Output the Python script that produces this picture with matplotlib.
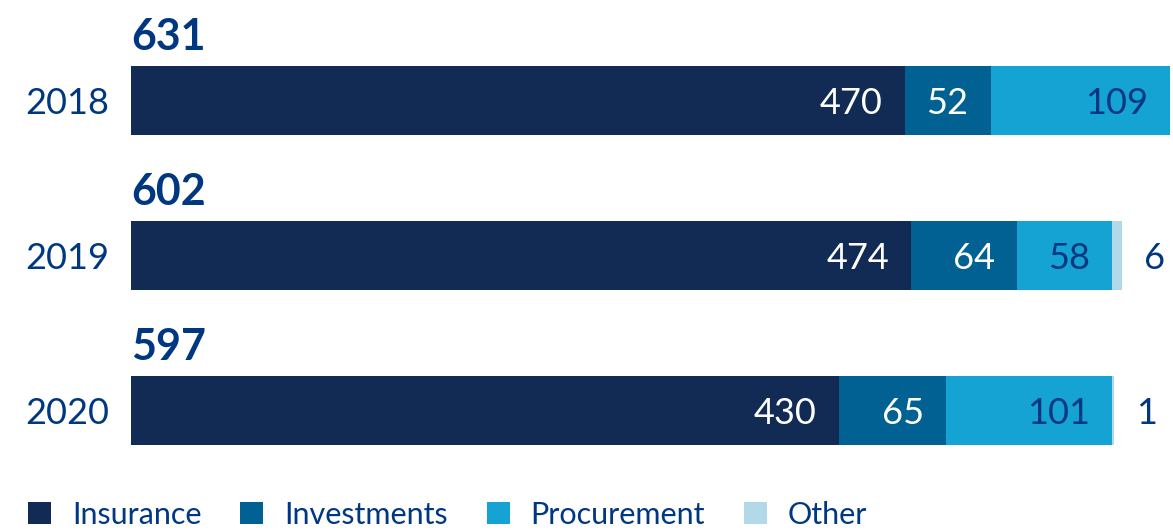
import numpy as np
import matplotlib.pyplot as plt
from matplotlib.patches import Patch

plt.rcParams['font.family'] = ['Lato', 'DejaVu Sans']

years = ['2018', '2019', '2020']
totals = [631, 602, 597]
segments = ['Insurance', 'Investments', 'Procurement', 'Other']
insurance = [470, 474, 430]
investments = [52, 64, 65]
procurement = [109, 58, 101]
other = [0, 6, 1]

colors = ['#122b54', '#006192', '#15a3d4', '#b1d9e7']
label_colors = ['white', 'white', '#003781', '#003781']
navy = '#003781'

fig = plt.figure(figsize=(11.73, 5.31), dpi=100)
# axes spans full height, x from bar start to right edge
ax = fig.add_axes([131/1173, 0, 1039/1173, 1])

y = np.arange(len(years))
h = 0.45
data = [insurance, investments, procurement, other]
left = np.zeros(len(years))
for k, vals in enumerate(data):
    vals = np.array(vals)
    ax.barh(y, vals, left=left, height=h, color=colors[k], linewidth=0)
    for i in range(len(years)):
        if vals[i] == 0:
            continue
        if k < 3:
            ax.annotate(str(vals[i]), (left[i] + vals[i], y[i]), xytext=(-16, 0),
                        textcoords='offset points', ha='right', va='center_baseline',
                        fontsize=26, color=label_colors[k])
        else:
            ax.annotate(str(vals[i]), (left[i] + vals[i], y[i]), xytext=(16, 0),
                        textcoords='offset points', ha='left', va='center_baseline',
                        fontsize=26, color=navy)
    left = left + vals

for i in range(len(years)):
    ax.annotate(str(totals[i]), (0, y[i] - h/2), xytext=(0, 11),
                textcoords='offset points', ha='left', va='baseline',
                fontsize=31, fontweight='bold', color=navy)

ax.set_xlim(0, 631)
ax.set_ylim(2.777, -0.648)
ax.set_yticks(y)
ax.set_yticklabels(years, fontsize=26, color=navy)
ax.tick_params(axis='y', length=0, pad=16)
ax.set_xticks([])
for s in ax.spines.values():
    s.set_visible(False)

handles = [Patch(facecolor=c, edgecolor='none') for c in colors]
fig.legend(handles, segments, loc='lower left', bbox_to_anchor=(28/1173, 0.004),
           ncol=4, frameon=False, fontsize=22, labelcolor=navy,
           borderpad=0, borderaxespad=0,
           handlelength=0.75, handleheight=0.75, handletextpad=0.69,
           columnspacing=1.27)

fig.savefig('out.png', dpi=100)
